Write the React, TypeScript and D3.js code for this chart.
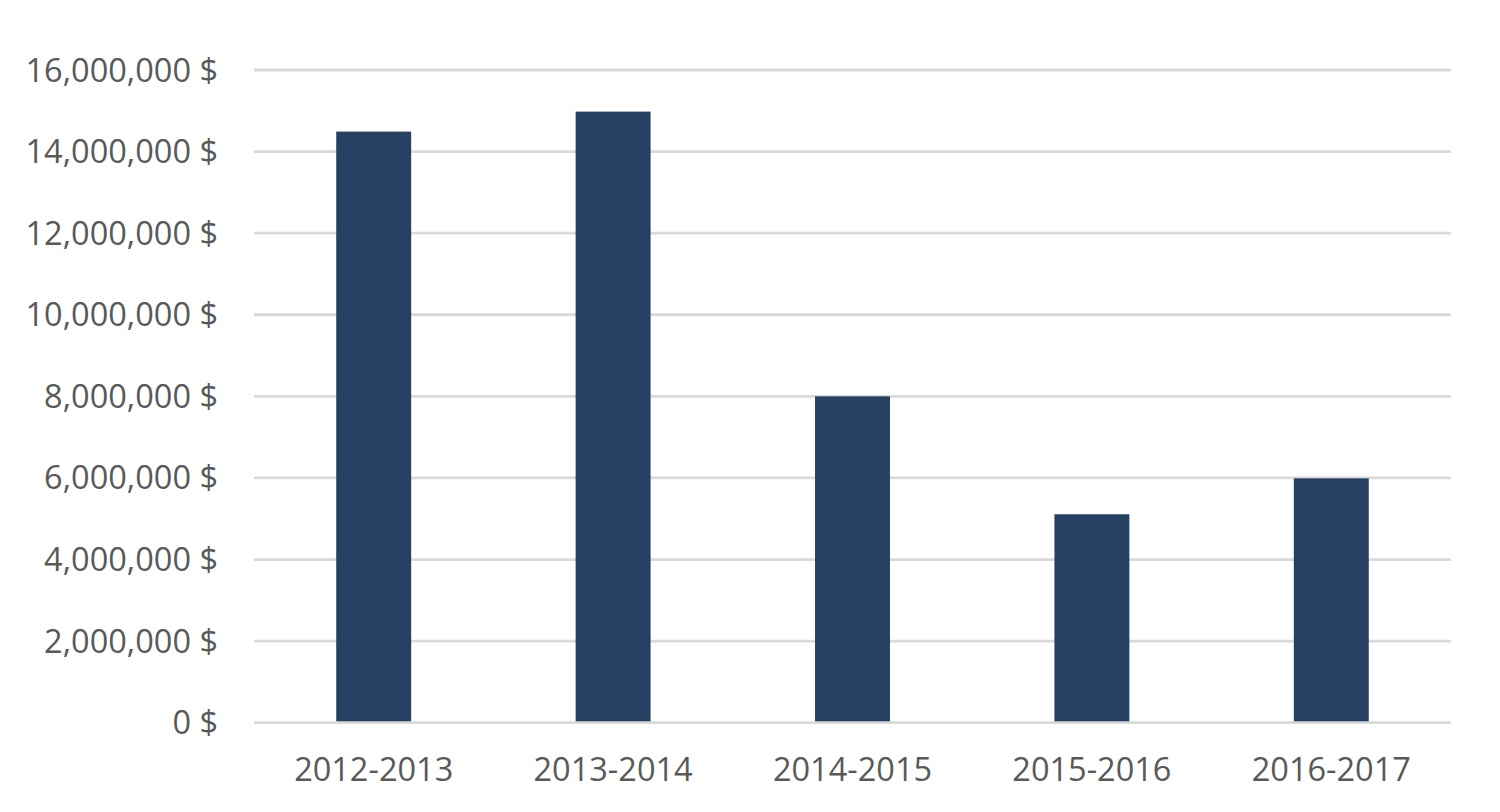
import React from "react";
import * as d3 from "d3";

const categories = ["2012-2013", "2013-2014", "2014-2015", "2015-2016", "2016-2017"];
const values = [14490000, 14980000, 8000000, 5110000, 5990000];
const yTicks = [0, 2000000, 4000000, 6000000, 8000000, 10000000, 12000000, 14000000, 16000000];

const W = 1500;
const H = 812;
const plot = { left: 254, right: 1451, top: 70, bottom: 722.7 };

export default function App() {
  const x = d3.scaleBand<string>().domain(categories).range([plot.left, plot.right]).padding(0);
  const y = d3.scaleLinear().domain([0, 16000000]).range([plot.bottom, plot.top]);
  const barW = x.bandwidth() * 0.313;
  const fmt = d3.format(",");
  const font = "'Open Sans', 'Liberation Sans', sans-serif";
  const textColor = "#595959";

  return (
    <div style={{ position: "absolute", left: 0, top: 0 }}>
      <svg width={W} height={H} style={{ display: "block", background: "#fff" }}>
        <g>
          {yTicks.map((t) => (
            <line
              key={"g" + t}
              x1={plot.left}
              x2={plot.right}
              y1={y(t)}
              y2={y(t)}
              stroke="#d9d9d9"
              strokeWidth={2.8}
            />
          ))}
        </g>
        <g>
          {categories.map((c, i) => {
            const cx = (x(c) as number) + x.bandwidth() / 2;
            return (
              <rect
                key={c}
                x={cx - barW / 2}
                y={y(values[i])}
                width={barW}
                height={y(0) - y(values[i]) - 1.4}
                fill="#264061"
              />
            );
          })}
        </g>
        <g fontFamily={font} fontSize={32.5} fill={textColor}>
          {yTicks.map((t) => (
            <text key={"t" + t} x={218} y={y(t) + 11.5} textAnchor="end">
              {fmt(t) + " $"}
            </text>
          ))}
          {categories.map((c) => (
            <text
              key={"x" + c}
              x={(x(c) as number) + x.bandwidth() / 2}
              y={781}
              textAnchor="middle"
            >
              {c}
            </text>
          ))}
        </g>
      </svg>
    </div>
  );
}
